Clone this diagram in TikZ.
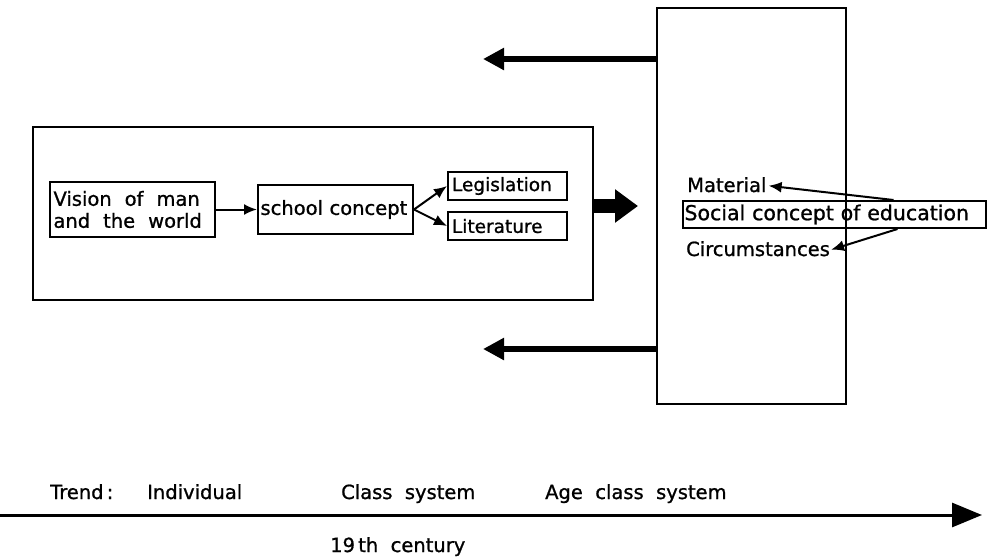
\documentclass[tikz,border=0pt]{standalone}
\usepackage{fontspec}
\setmainfont{DejaVu Sans}[UprightFeatures={FakeBold=1.0}]
\usetikzlibrary{arrows.meta,calc}
\begin{document}
\begin{tikzpicture}[x=1pt,y=-1pt,
  every node/.style={font=\fontsize{19.5}{23}\selectfont},
  frame/.style={draw,line width=2pt,rectangle,inner sep=0pt},
  tbox/.style={draw,line width=2pt,rectangle,inner sep=0pt,align=left},
  lbl/.style={inner sep=0pt},
  thin/.style={line width=2pt,-{Latex[length=13pt,width=11pt]}},
  fat/.style={line width=5.5pt,-{Triangle[length=21pt,width=21pt]}},
]
\useasboundingbox (0,0) rectangle (992,557);
% frames
\node[frame,minimum width=560,minimum height=173] (leftbox) at (313,213.5) {};
\node[frame,minimum width=189,minimum height=396] (rightbox) at (751.5,206) {};
% left content
\node[tbox,minimum width=165,minimum height=55,text width=158] (vision) at (132.5,209.5) {Vision\ \ of\ \ man\\[-1pt]and\ \ the\ \ world};
\node[tbox,minimum width=155,minimum height=49,text width=150] (school) at (335.5,209.5) {school concept};
\node[tbox,minimum width=119,minimum height=28,text width=115,font=\fontsize{18.5}{22}\selectfont] (legis) at (507.5,186) {\hspace*{2pt}Legislation};
\node[tbox,minimum width=119,minimum height=28,text width=115,font=\fontsize{18.5}{22}\selectfont] (lit) at (507.5,226) {\hspace*{2pt}Literature};
\draw[thin] (vision.east) -- (school.west);
\draw[thin] (school.east) -- (legis.west);
\draw[thin] (school.east) -- (lit.west);
% right content
\node[tbox,minimum width=303,minimum height=27,text width=300,font=\fontsize{20.5}{24}\selectfont] (social) at (834.5,214.5) {Social concept of education};
\node[lbl,anchor=base west] (material) at (687,192) {Material};
\node[lbl,anchor=base west] (circ) at (686,256) {Circumstances};
\draw[thin] ([xshift=59pt]social.north) -- ([xshift=2pt,yshift=-1pt]material.east);
\draw[thin] ([xshift=63pt]social.south) -- ([xshift=1pt,yshift=-1pt]circ.east);
% big arrows
\coordinate (t1) at (483,59);
\coordinate (t2) at (483,349);
\draw[fat] (rightbox.west |- t1) -- (t1);
\draw[fat] (rightbox.west |- t2) -- (t2);
\coordinate (m1) at (638,206);
\draw[line width=14pt,-{Triangle[length=23pt,width=32pt]}] (leftbox.east |- m1) -- (m1);
% timeline
\coordinate (a0) at (0,515);
\coordinate (a1) at (982,515);
\draw[line width=3pt,-{Triangle[length=30pt,width=24pt]}] (a0) -- (a1);
\node[lbl,anchor=base west] (trend) at (50,499) {Trend\,:};
\node[lbl,anchor=base west] (indiv) at (147,499) {Individual};
\node[lbl,anchor=base west] (class) at (341,499) {Class\ \ system};
\node[lbl,anchor=base west] (age) at (545,499) {Age\ \ class\ \ system};
\node[lbl,anchor=base west] (cent) at (330,552) {19\,th\ \ century};
\end{tikzpicture}
\end{document}
